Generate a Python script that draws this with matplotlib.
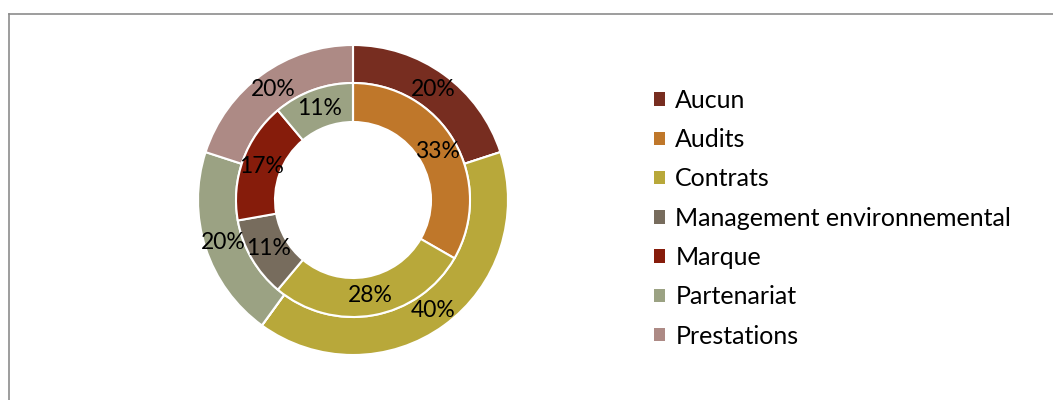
import matplotlib
matplotlib.use("Agg")
import matplotlib.pyplot as plt
from matplotlib.patches import Patch
from matplotlib.lines import Line2D

categories = ["Aucun", "Audits", "Contrats", "Management environnemental",
              "Marque", "Partenariat", "Prestations"]
outer_values = [20, 0, 40, 0, 0, 20, 20]
inner_values = [0, 33.3, 27.8, 11.1, 16.7, 11.1, 0]
colors = ["#772D20", "#BF772A", "#B8A83A", "#776C5D", "#861C0B", "#9BA283", "#AD8A85"]

plt.rcParams['font.family'] = ['Lato', 'DejaVu Sans']

W, H = 1053, 400
fig = plt.figure(figsize=(W / 100, H / 100), dpi=100)

cx, cy, R = 353, 200, 155
ax = fig.add_axes([(cx - R) / W, (H - cy - R) / H, 2 * R / W, 2 * R / H])
ax.set_xlim(-1, 1)
ax.set_ylim(-1, 1)
ax.set_aspect('equal')
ax.axis('off')

r_out_in = 117 / R
r_hole = 78 / R
FS = 16.5
LFS = 18


def fmt(p):
    return f"{p:.0f}%" if p > 0.5 else ""


ax.pie(outer_values, radius=1.0, colors=colors, startangle=90, counterclock=False,
       wedgeprops=dict(width=1.0 - r_out_in, edgecolor='white', linewidth=1.5),
       autopct=fmt, pctdistance=(1.0 + r_out_in) / 2,
       textprops=dict(fontsize=FS, color='black'))
ax.pie(inner_values, radius=r_out_in, colors=colors, startangle=90, counterclock=False,
       wedgeprops=dict(width=r_out_in - r_hole, edgecolor='white', linewidth=1.5),
       autopct=fmt, pctdistance=((r_out_in + r_hole) / 2) / r_out_in,
       textprops=dict(fontsize=FS, color='black'))
ax.set_xlim(-1, 1)
ax.set_ylim(-1, 1)

handles = [Patch(facecolor=c, edgecolor='none') for c in colors]
fig.legend(handles, categories, loc='upper left', bbox_to_anchor=(654 / W, 1 - 89 / H),
           frameon=False, fontsize=LFS, handlelength=0.45, handleheight=0.45,
           handletextpad=0.4, labelspacing=0.65, borderpad=0, borderaxespad=0)

# chart frame (top and left edges visible)
fig.add_artist(Line2D([9 / W, 1.0], [1 - 14 / H, 1 - 14 / H], color='#8c8c8c', linewidth=1.2,
                      transform=fig.transFigure))
fig.add_artist(Line2D([9 / W, 9 / W], [0, 1 - 14 / H], color='#8c8c8c', linewidth=1.2,
                      transform=fig.transFigure))

fig.savefig("out.png", dpi=100, facecolor='white')
